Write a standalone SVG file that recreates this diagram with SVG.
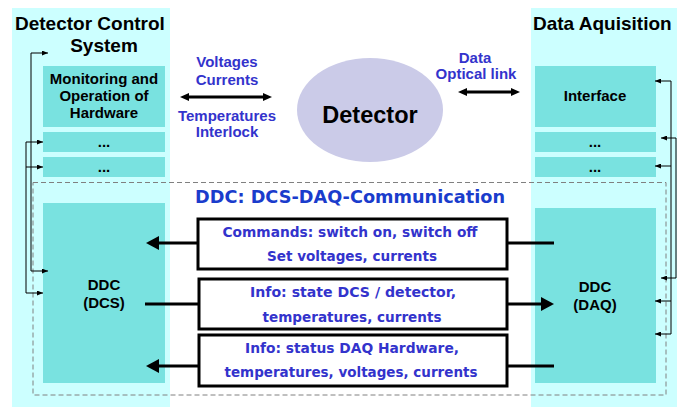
<svg xmlns="http://www.w3.org/2000/svg" width="677" height="407" viewBox="0 0 677 407">
<defs>
<style>
.panel{fill:#ccffff}
.box{fill:#79e2e0}
.ttl{font-family:"Liberation Sans",Arial,sans-serif;font-weight:bold;font-size:19px;fill:#000}
.lbl{font-family:"Liberation Sans",Arial,sans-serif;font-weight:bold;font-size:15px;fill:#000;text-anchor:middle}
.blue{font-family:"Liberation Sans",Arial,sans-serif;font-weight:bold;font-size:15px;fill:#3333cc;text-anchor:middle}
.msg{font-family:"DejaVu Sans",Verdana,sans-serif;font-weight:bold;font-size:13.5px;fill:#3333cc;text-anchor:middle}
.mbox{fill:#fff;stroke:#000;stroke-width:3}
.thick{stroke:#000;stroke-width:3;fill:none}
.thin{stroke:#000;stroke-width:1;fill:none}
</style>
<marker id="big" viewBox="0 0 13 14" refX="2" refY="7" markerWidth="13" markerHeight="14" markerUnits="userSpaceOnUse" orient="auto"><path d="M0,0 L13,7 L0,14 z" fill="#000"/></marker>
<marker id="mid" viewBox="0 0 9 8" refX="2" refY="4" markerWidth="9" markerHeight="8" markerUnits="userSpaceOnUse" orient="auto-start-reverse"><path d="M0,0 L9,4 L0,8 z" fill="#000"/></marker>
<marker id="small" viewBox="0 0 6 5" refX="6" refY="2.5" markerWidth="6" markerHeight="5" markerUnits="userSpaceOnUse" orient="auto"><path d="M0,0 L6,2.5 L0,5 z" fill="#000"/></marker>
</defs>
<rect width="677" height="407" fill="#fff"/>

<g id="dcs-panel">
<rect class="panel" x="12" y="8" width="158" height="399"/>
<text class="ttl" x="15" y="30">Detector Control</text>
<text class="ttl" x="104" y="52" text-anchor="middle">System</text>
</g>
<g id="daq-panel">
<rect class="panel" x="531" y="8" width="146" height="399"/>
<text class="ttl" x="533" y="30">Data Aquisition</text>
</g>

<g id="monitoring">
<rect class="box" x="43" y="66" width="122" height="61"/>
<text class="lbl" x="104" y="84">Monitoring and</text>
<text class="lbl" x="104" y="101">Operation of</text>
<text class="lbl" x="104" y="118">Hardware</text>
</g>
<g id="dcs-dots1"><rect class="box" x="43" y="132" width="122" height="20"/><text class="lbl" x="104" y="147">...</text></g>
<g id="dcs-dots2"><rect class="box" x="43" y="157" width="122" height="20"/><text class="lbl" x="104" y="172">...</text></g>

<g id="interface">
<rect class="box" x="535" y="66" width="121" height="61"/>
<text class="lbl" x="595" y="101">Interface</text>
</g>
<g id="daq-dots1"><rect class="box" x="535" y="132" width="121" height="20"/><text class="lbl" x="595" y="147">...</text></g>
<g id="daq-dots2"><rect class="box" x="535" y="157" width="121" height="20"/><text class="lbl" x="595" y="172">...</text></g>

<g id="detector">
<ellipse cx="370" cy="110" rx="73" ry="52" fill="#cbcbe8"/>
<text x="370" y="123" text-anchor="middle" font-family="Liberation Sans, Arial, sans-serif" font-weight="bold" font-size="23.5" fill="#000">Detector</text>
</g>

<g id="ddc-area">
<rect x="33" y="182.5" width="633" height="212.5" fill="none" stroke="#808080" stroke-width="1" stroke-dasharray="5,3"/>
<text x="350" y="203" text-anchor="middle" font-family="DejaVu Sans, Verdana, sans-serif" font-weight="bold" font-size="18.5" fill="#1a3ccc" textLength="310" lengthAdjust="spacingAndGlyphs">DDC: DCS-DAQ-Communication</text>
</g>

<g id="ddc-dcs">
<rect class="box" x="43" y="203" width="122" height="180"/>
<text class="lbl" x="104" y="290">DDC</text>
<text class="lbl" x="104" y="308">(DCS)</text>
</g>
<g id="ddc-daq">
<rect class="box" x="535" y="208" width="121" height="175"/>
<text class="lbl" x="595" y="292">DDC</text>
<text class="lbl" x="595" y="310">(DAQ)</text>
</g>

<g id="commands">
<rect class="mbox" x="198" y="219" width="309" height="50"/>
<text class="msg" x="350" y="237" textLength="255" lengthAdjust="spacingAndGlyphs">Commands: switch on, switch off</text>
<text class="msg" x="352" y="261" textLength="170" lengthAdjust="spacingAndGlyphs">Set voltages, currents</text>
</g>
<g id="info-dcs">
<rect class="mbox" x="199" y="279" width="308" height="50"/>
<text class="msg" x="353" y="297" textLength="206" lengthAdjust="spacingAndGlyphs">Info: state DCS / detector,</text>
<text class="msg" x="352" y="322" textLength="179" lengthAdjust="spacingAndGlyphs">temperatures, currents</text>
</g>
<g id="info-daq">
<rect class="mbox" x="199" y="335" width="308" height="51"/>
<text class="msg" x="352" y="353" textLength="214" lengthAdjust="spacingAndGlyphs">Info: status DAQ Hardware,</text>
<text class="msg" x="351" y="377" textLength="253" lengthAdjust="spacingAndGlyphs">temperatures, voltages, currents</text>
</g>

<g id="labels">
<text class="blue" x="227" y="67">Voltages</text>
<text class="blue" x="227" y="85">Currents</text>
<text class="blue" x="227" y="121">Temperatures</text>
<text class="blue" x="227" y="137">Interlock</text>
<text class="blue" x="475" y="63">Data</text>
<text class="blue" x="476" y="79">Optical link</text>
</g>

<g id="connectors">
<path class="thick" d="M187,97 H265" marker-start="url(#mid)" marker-end="url(#mid)"/>
<path class="thick" d="M465,92 H513" marker-start="url(#mid)" marker-end="url(#mid)"/>
<path class="thick" d="M198,243 H157" marker-end="url(#big)"/>
<path class="thick" d="M507,243 H554"/>
<path class="thick" d="M145,304 H199"/>
<path class="thick" d="M507,304 H543" marker-end="url(#big)"/>
<path class="thick" d="M199,366 H157" marker-end="url(#big)"/>
<path class="thick" d="M507,366 H554"/>

<path class="thin" d="M31,53 V271"/>
<path class="thin" d="M31,53 H48" marker-end="url(#small)"/>
<path class="thin" d="M31,271 H48" marker-end="url(#small)"/>
<path class="thin" d="M26,142 V293"/>
<path class="thin" d="M26,142 H43" marker-end="url(#small)"/>
<path class="thin" d="M26,167 H43" marker-end="url(#small)"/>
<path class="thin" d="M26,293 H43" marker-end="url(#small)"/>

<path class="thin" d="M671,81 V334"/>
<path class="thin" d="M671,81 H655" marker-end="url(#small)"/>
<path class="thin" d="M671,166 H655" marker-end="url(#small)"/>
<path class="thin" d="M671,301 H655" marker-end="url(#small)"/>
<path class="thin" d="M671,334 H655" marker-end="url(#small)"/>
<path class="thin" d="M676,138 V278"/>
<path class="thin" d="M676,138 H661" marker-end="url(#small)"/>
<path class="thin" d="M676,278 H661" marker-end="url(#small)"/>
</g>
</svg>
